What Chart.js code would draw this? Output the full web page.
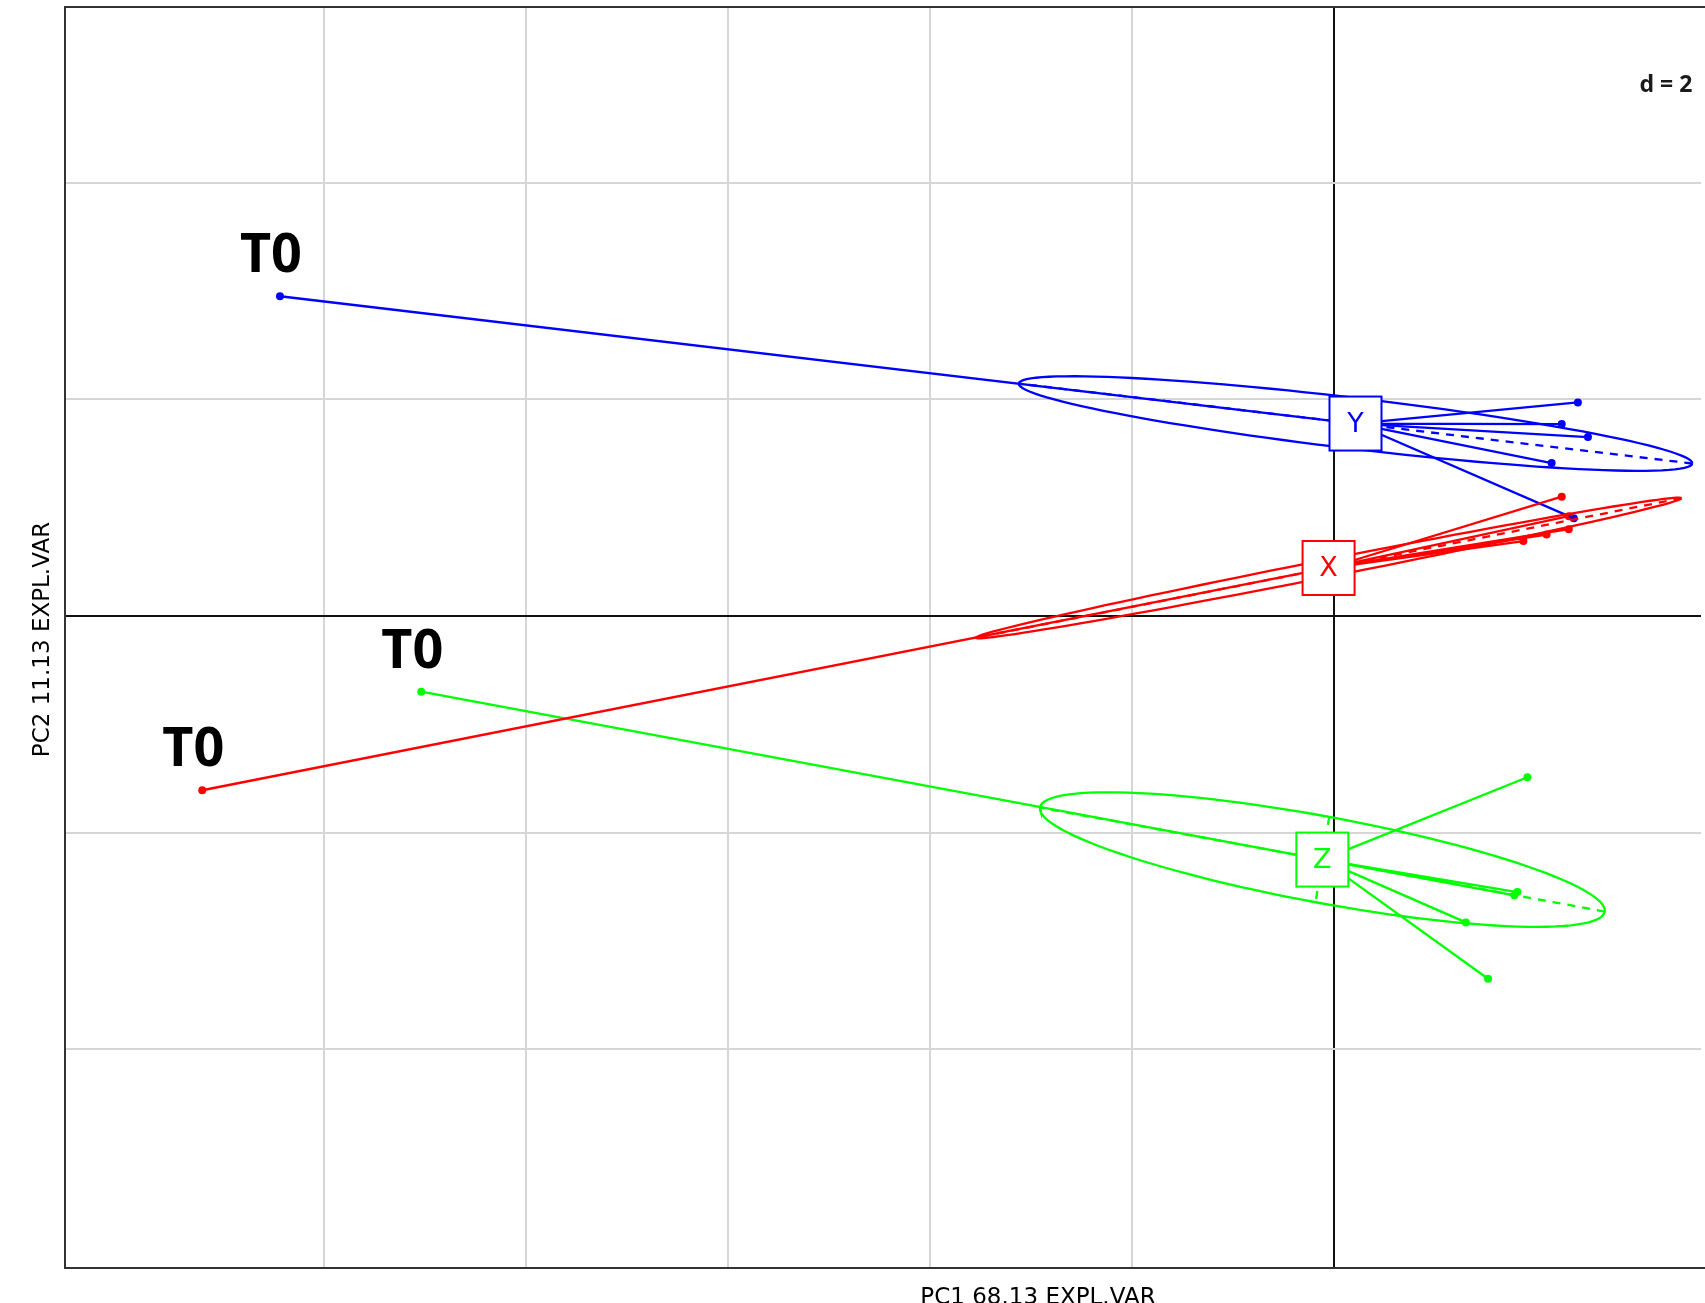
<!DOCTYPE html>
<html>
<head>
<meta charset="utf-8">
<title>PCA - classes X, Y, Z</title>
<script src="https://cdn.jsdelivr.net/npm/chart.js@4.4.1/dist/chart.umd.min.js"></script>
<style>
  html, body { margin: 0; padding: 0; background: #fff; overflow: hidden; }
  #wrap { position: relative; width: 1705px; height: 1303px; }
</style>
</head>
<body>
<div id="wrap"><canvas id="pca"></canvas></div>
<script>
// Class names and colours
const classNames = ['X', 'Y', 'Z'];
const classColors = ['#ff0000', '#0000ff', '#00ff00'];

// Sample scores on PC1 / PC2, one pair of arrays per class (first sample is T0)
const pc1_X = [-11.21, 2.26, 2.33, 2.11, 1.88, 2.33];
const pc2_X = [-1.61, 1.10, 0.80, 0.75, 0.69, 0.92];
const pc1_Y = [-10.44, 2.42, 2.26, 2.52, 2.16, 2.38];
const pc2_Y = [2.95, 1.97, 1.77, 1.65, 1.41, 0.90];
const pc1_Z = [-9.04, 1.92, 1.82, 1.79, 1.31, 1.53];
const pc2_Z = [-0.70, -1.49, -2.55, -2.58, -2.83, -3.35];
const sampleLabels = ['T0', '', '', '', '', ''];

// Grid lines (d = 2) and visible window
const gridX = [-10, -8, -6, -4, -2, 0];
const gridY = [-4, -2, 0, 2, 4];
const gridStep = 2;
const xRange = [-12.57, 3.64];
const yRange = [-6.02, 5.62];

const axisTitleX = 'PC1 68.13 EXPL.VAR';
const axisTitleY = 'PC2 11.13 EXPL.VAR';

const ELLIPSE_COEF = 0.7;
const LINE_W = 2.3;

const classes = [
    { name: classNames[0], color: classColors[0], pc1: pc1_X, pc2: pc2_X },
    { name: classNames[1], color: classColors[1], pc1: pc1_Y, pc2: pc2_Y },
    { name: classNames[2], color: classColors[2], pc1: pc1_Z, pc2: pc2_Z }
];

function mean(a) {
    return a.reduce((s, v) => s + v, 0) / a.length;
}

// covariance ellipse (same construction as ade4's util.ellipse)
function ellipse(xs, ys, coeff) {
    const mx = mean(xs), my = mean(ys);
    let vx = 0, vy = 0, cxy = 0;
    xs.forEach((x, i) => {
        vx += (x - mx) * (x - mx);
        vy += (ys[i] - my) * (ys[i] - my);
        cxy += (x - mx) * (ys[i] - my);
    });
    vx /= xs.length; vy /= xs.length; cxy /= xs.length;
    const delta = Math.sqrt((vx - vy) * (vx - vy) + 4 * cxy * cxy);
    let l1 = (vx + vy + delta) / 2;
    let l2 = vx + vy - l1;
    l1 = Math.sqrt(Math.max(l1, 0));
    l2 = Math.sqrt(Math.max(l2, 0));
    let a0 = 1, b0 = (l1 * l1 - vx) / cxy;
    const norm = Math.sqrt(a0 * a0 + b0 * b0);
    a0 /= norm; b0 /= norm;
    const c11 = coeff * a0 * l1, c12 = -coeff * b0 * l2;
    const c21 = coeff * b0 * l1, c22 = coeff * a0 * l2;
    const outline = [];
    const n = 120;
    for (let i = 0; i <= n; i++) {
        const t = 2 * Math.PI * i / n;
        outline.push({ x: mx + c11 * Math.cos(t) + c12 * Math.sin(t),
                       y: my + c21 * Math.cos(t) + c22 * Math.sin(t) });
    }
    const axes = [
        { x: mx + c11, y: my + c21 }, { x: mx - c11, y: my - c21 }, { x: NaN, y: NaN },
        { x: mx + c12, y: my + c22 }, { x: mx - c12, y: my - c22 }
    ];
    return { mx, my, outline, axes };
}

const ellipseSets = [], axisSets = [], starSets = [], pointSets = [];

classes.forEach(c => {
    const e = ellipse(c.pc1, c.pc2, ELLIPSE_COEF);
    c.mx = e.mx; c.my = e.my;

    ellipseSets.push({
        data: e.outline, showLine: true, borderColor: c.color, borderWidth: LINE_W,
        pointRadius: 0, fill: false, tension: 0
    });
    axisSets.push({
        data: e.axes, showLine: true, borderColor: c.color, borderWidth: LINE_W,
        borderDash: [8, 7], pointRadius: 0, spanGaps: false
    });

    // star: segment from class centre to every sample
    const star = [];
    c.pc1.forEach((v, i) => {
        star.push({ x: e.mx, y: e.my }, { x: v, y: c.pc2[i] }, { x: NaN, y: NaN });
    });
    starSets.push({
        data: star, showLine: true, borderColor: c.color, borderWidth: LINE_W,
        pointRadius: 0, spanGaps: false
    });

    pointSets.push({
        data: c.pc1.map((v, i) => ({ x: v, y: c.pc2[i] })),
        showLine: false, pointRadius: 4, pointBorderWidth: 0,
        pointBackgroundColor: c.color
    });
});

// T0 tags, class boxes, d = 2 and axis titles
const decorations = {
    id: 'decorations',
    afterDatasetsDraw(chart) {
        const { ctx, scales: { x, y } } = chart;
        ctx.save();

        ctx.fillStyle = '#000';
        ctx.font = 'bold 54px "Noto Sans"';
        ctx.textAlign = 'center';
        ctx.textBaseline = 'alphabetic';
        classes.forEach(c => {
            c.pc1.forEach((v, i) => {
                if (!sampleLabels[i]) return;
                ctx.fillText(sampleLabels[i], x.getPixelForValue(v) - 9, y.getPixelForValue(c.pc2[i]) - 24);
            });
        });

        classes.forEach(c => {
            const px = x.getPixelForValue(c.mx), py = y.getPixelForValue(c.my);
            ctx.fillStyle = '#fff';
            ctx.fillRect(px - 26, py - 27, 52, 54);
            ctx.strokeStyle = c.color;
            ctx.lineWidth = 2;
            ctx.strokeRect(px - 26, py - 27, 52, 54);
            ctx.fillStyle = c.color;
            ctx.font = '27px "DejaVu Sans"';
            ctx.textBaseline = 'middle';
            ctx.fillText(c.name, px, py + 1);
        });

        ctx.font = 'bold 23px "Noto Sans"';
        ctx.fillStyle = '#fff';
        ctx.fillRect(1632, 68, 70, 34);
        ctx.fillStyle = '#1a1a1a';
        ctx.textBaseline = 'middle';
        ctx.fillText('d = ' + gridStep, 1666, 85);
        ctx.restore();
    },
    afterDraw(chart) {
        const { ctx, chartArea: a } = chart;
        ctx.save();
        // frame
        ctx.strokeStyle = '#333';
        ctx.lineWidth = 2;
        ctx.beginPath();
        ctx.moveTo(a.right + 4, a.top);
        ctx.lineTo(a.left, a.top);
        ctx.lineTo(a.left, a.bottom);
        ctx.lineTo(a.right + 4, a.bottom);
        ctx.stroke();

        ctx.fillStyle = '#000';
        ctx.font = '23px "DejaVu Sans"';
        ctx.textAlign = 'center';
        ctx.textBaseline = 'alphabetic';
        ctx.fillText(axisTitleX, 1038, 1304);

        ctx.translate(49, (a.top + a.bottom) / 2 + 2);
        ctx.rotate(-Math.PI / 2);
        ctx.fillText(axisTitleY, 0, 0);
        ctx.restore();
    }
};

function gridColor(ctx) {
    return ctx.tick && ctx.tick.value === 0 ? '#111' : '#d6d6d6';
}

new Chart(document.getElementById('pca'), {
    type: 'scatter',
    data: { datasets: [...ellipseSets, ...axisSets, ...starSets, ...pointSets] },
    options: {
        responsive: true,
        maintainAspectRatio: false,
        animation: false,
        layout: { padding: { left: 65, top: 7, right: 0, bottom: 35 } },
        plugins: { legend: { display: false }, tooltip: { enabled: false } },
        scales: {
            x: {
                type: 'linear', min: xRange[0], max: xRange[1],
                afterBuildTicks: s => { s.ticks = gridX.map(v => ({ value: v })); },
                ticks: { display: false },
                border: { display: false },
                grid: { color: gridColor, lineWidth: 2, drawTicks: false }
            },
            y: {
                type: 'linear', min: yRange[0], max: yRange[1],
                afterBuildTicks: s => { s.ticks = gridY.map(v => ({ value: v })); },
                ticks: { display: false },
                border: { display: false },
                grid: { color: gridColor, lineWidth: 2, drawTicks: false }
            }
        }
    },
    plugins: [decorations]
});
</script>
</body>
</html>
